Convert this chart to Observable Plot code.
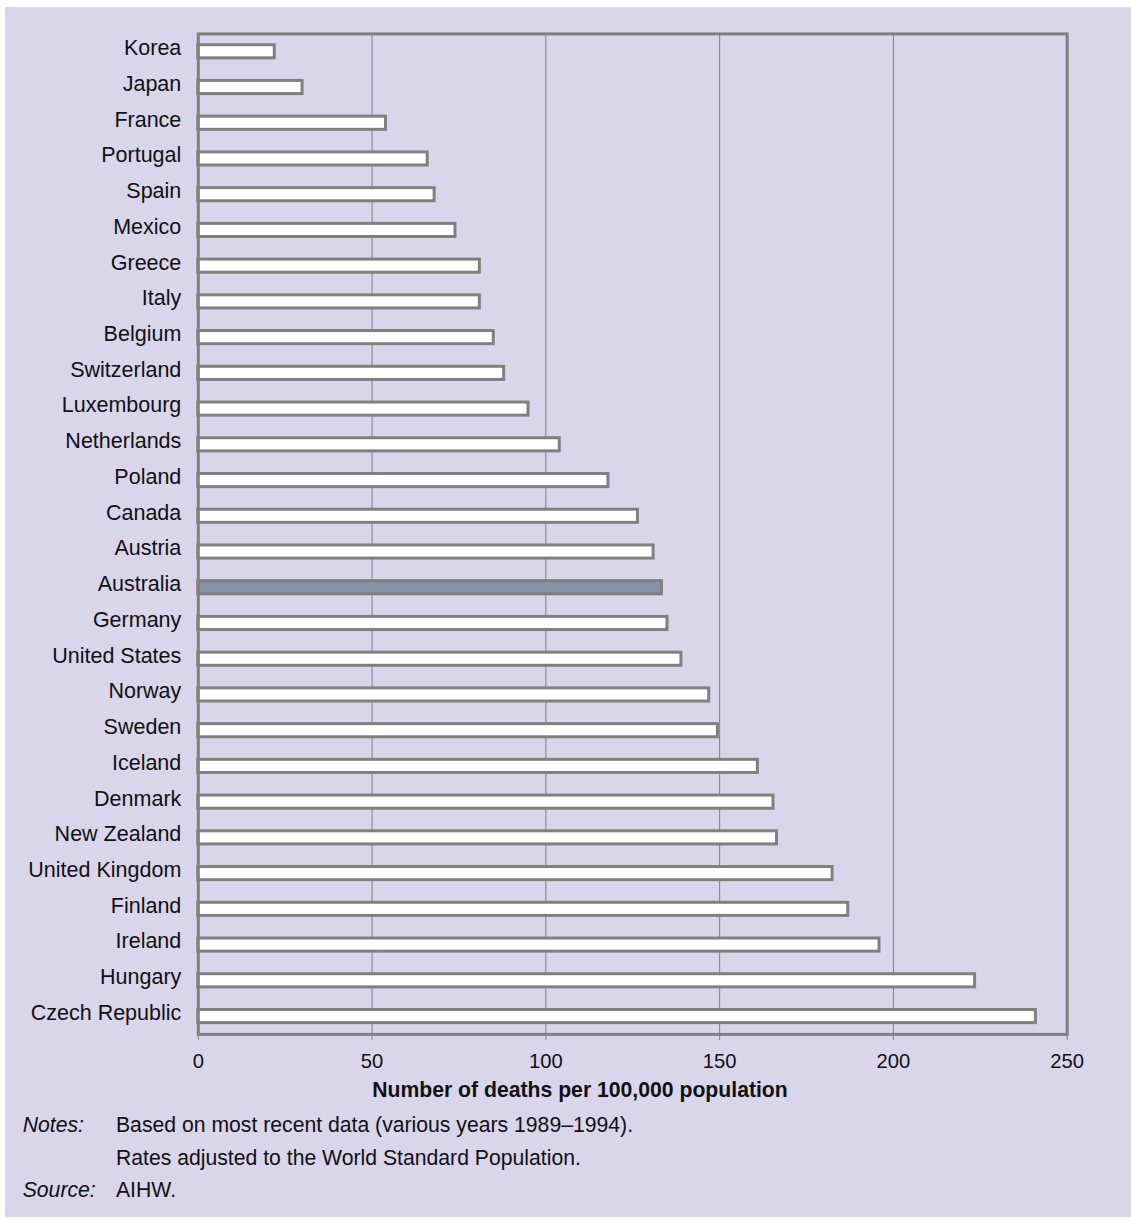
<!DOCTYPE html>
<html>
<head>
<meta charset="utf-8">
<script src="https://cdn.jsdelivr.net/npm/d3@7"></script>
<script src="https://cdn.jsdelivr.net/npm/@observablehq/plot@0.6"></script>
<style>
  html, body { margin: 0; padding: 0; background: #ffffff; overflow: hidden; }
  #panel {
    position: absolute; left: 5px; top: 7px; width: 1126px; height: 1210px;
    background: #d9d5ea;
    font-family: "Liberation Sans", Arial, Helvetica, sans-serif;
    color: #111;
  }
  #chart svg { display: block; }
  #notes {
    position: absolute; left: 0; top: 1102.3px; width: 100%;
    font-size: 21.2px; line-height: 32.6px;
  }
  .row { display: flex; white-space: nowrap; }
  .lab { width: 93.3px; padding-left: 17.7px; font-style: italic; box-sizing: content-box; flex: none; }
</style>
</head>
<body>
<div id="panel">
  <div id="chart"></div>
  <div id="notes"></div>
</div>
<script>
const countries = ["Korea","Japan","France","Portugal","Spain","Mexico","Greece","Italy","Belgium","Switzerland","Luxembourg","Netherlands","Poland","Canada","Austria","Australia","Germany","United States","Norway","Sweden","Iceland","Denmark","New Zealand","United Kingdom","Finland","Ireland","Hungary","Czech Republic"];
const values = [22, 30, 54, 66, 68, 74, 81, 81, 85, 88, 95, 104, 118, 126.5, 131, 133.4, 135, 139, 147, 149.5, 161, 165.5, 166.5, 182.5, 187, 196, 223.5, 241];
const highlight = "Australia";
const xTicks = [0, 50, 100, 150, 200, 250];
const xTitle = "Number of deaths per 100,000 population";
const notes = [
  ["Notes:", "Based on most recent data (various years 1989\u20131994)."],
  ["", "Rates adjusted to the World Standard Population."],
  ["Source:", "AIHW."]
];

const data = countries.map((c, i) => ({country: c, value: values[i]}));

const chart = Plot.plot({
  width: 1126,
  height: 1103,
  marginLeft: 192.8,
  marginRight: 64.3,
  marginTop: 26.4,
  marginBottom: 76.1,
  style: {
    background: "#d9d5ea",
    fontFamily: "'Liberation Sans', Arial, Helvetica, sans-serif",
    fontSize: "20px",
    color: "#111"
  },
  x: {domain: [0, 250]},
  y: {domain: countries, padding: 0, round: false},
  marks: [
    Plot.gridX(xTicks, {stroke: "#808080", strokeOpacity: 1, strokeWidth: 1}),
    Plot.barX(data, {
      x: "value", y: "country",
      fill: d => d.country === highlight ? "#8792a6" : "#ffffff",
      stroke: "#808080", strokeWidth: 3,
      insetTop: 11.3, insetBottom: 11.3
    }),
    Plot.frame({stroke: "#808080", strokeWidth: 3}),
    Plot.axisY({tickSize: 0, tickPadding: 17, fontSize: 21.5, dy: -3.5, label: null}),
    Plot.axisX(xTicks, {tickSize: 6, tickPadding: 13, stroke: "#808080", fontSize: 20.2, label: null}),
    Plot.text([xTitle], {
      text: d => d, frameAnchor: "bottom", lineAnchor: "middle",
      dx: -52.8, dy: 56.3, fontWeight: "bold", fontSize: 21.2, fill: "#111"
    })
  ]
});
document.getElementById("chart").appendChild(chart);

const notesDiv = document.getElementById("notes");
notes.forEach(([a, b]) => {
  const row = document.createElement("div");
  row.className = "row";
  const l = document.createElement("span"); l.className = "lab"; l.textContent = a;
  const t = document.createElement("span"); t.textContent = b;
  row.appendChild(l); row.appendChild(t);
  notesDiv.appendChild(row);
});
</script>
</body>
</html>
